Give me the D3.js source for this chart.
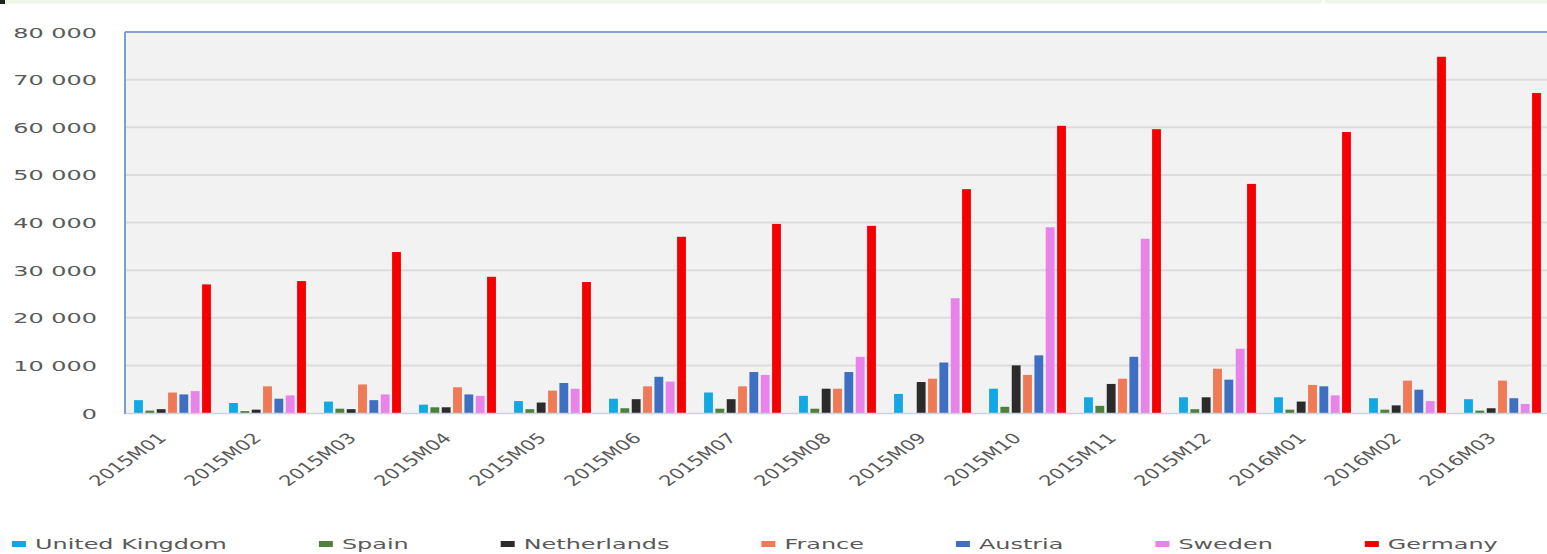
<!DOCTYPE html>
<html>
<head>
<meta charset="utf-8">
<script src="https://cdn.jsdelivr.net/npm/d3@7/dist/d3.min.js"></script>
<style>
  html, body { margin: 0; padding: 0; background: #ffffff; }
  svg { display: block; }
  text { font-family: "DejaVu Sans", sans-serif; fill: #595959; }
</style>
</head>
<body>
<svg id="chart" width="1547" height="554"></svg>
<script>
const months = ["2015M01","2015M02","2015M03","2015M04","2015M05","2015M06","2015M07","2015M08","2015M09","2015M10","2015M11","2015M12","2016M01","2016M02","2016M03"];
const seriesNames = ["United Kingdom","Spain","Netherlands","France","Austria","Sweden","Germany"];
const unitedKingdom = [2700,2100,2400,1750,2500,3000,4300,3600,4000,5100,3300,3300,3300,3100,2900];
const spain         = [500,400,900,1200,800,1000,900,900,0,1300,1500,800,700,700,500];
const netherlands   = [800,700,800,1200,2200,2900,2900,5100,6500,10000,6100,3300,2400,1600,1000];
const france        = [4300,5600,6000,5400,4700,5600,5600,5100,7200,8000,7200,9300,5900,6800,6800];
const austria       = [3900,3000,2700,3900,6300,7600,8600,8600,10600,12100,11800,7000,5600,4900,3100];
const sweden        = [4600,3700,3900,3600,5100,6600,8000,11800,24100,39000,36600,13500,3700,2500,1900];
const germany       = [27000,27700,33800,28600,27500,37000,39700,39300,47000,60300,59600,48100,59000,74800,67200];
const yTicks = [0,10000,20000,30000,40000,50000,60000,70000,80000];
const colors = ["#12a8e3","#4f7f3a","#2b2b2b","#ef7a55","#3f6fc0","#e883ea","#f50000"];

const seriesValues = [unitedKingdom, spain, netherlands, france, austria, sweden, germany];

(function () {
const svg = d3.select("#chart");
const SX = 1.65;   // horizontal text stretch (y labels, legend)
const SXL = 1.45;  // horizontal stretch for rotated month labels
const fmt = v => d3.format(",")(v).replace(/,/g, " ");

const pLeft = 125, pRight = 1550, pTop = 32, pBottom = 413;

// top strip artifact
svg.append("rect").attr("x", 0).attr("y", 0).attr("width", 1547).attr("height", 3.5).attr("fill", "#eef6e8");
svg.append("rect").attr("x", 1322).attr("y", 0).attr("width", 3).attr("height", 3.5).attr("fill", "#ffffff");
svg.append("rect").attr("x", 0).attr("y", 0).attr("width", 5).attr("height", 4).attr("fill", "#222");

const x0 = d3.scaleBand().domain(months).range([pLeft, pRight]).paddingInner(0).paddingOuter(0);
const x1 = d3.scaleBand().domain(seriesNames).range([0, x0.bandwidth()]).paddingInner(0.22).paddingOuter(0.8);
const y = d3.scaleLinear().domain([0, 80000]).range([pBottom, pTop]);

// plot area
svg.append("rect").attr("x", pLeft).attr("y", pTop).attr("width", pRight - pLeft).attr("height", pBottom - pTop).attr("fill", "#f2f2f2");

// gridlines
svg.append("g").selectAll("line").data(yTicks.filter(t => t > 0 && t < 80000)).join("line")
  .attr("x1", pLeft).attr("x2", pRight)
  .attr("y1", d => y(d)).attr("y2", d => y(d))
  .attr("stroke", "#dcdcdc").attr("stroke-width", 2);

// bars
const groups = svg.append("g").selectAll("g").data(months).join("g")
  .attr("transform", d => `translate(${x0(d)},0)`);
groups.selectAll("rect").data((m, i) => seriesNames.map((s, k) => ({ s, k, v: seriesValues[k][i] }))).join("rect")
  .attr("x", d => x1(d.s))
  .attr("width", x1.bandwidth())
  .attr("y", d => y(d.v))
  .attr("height", d => y(0) - y(d.v))
  .attr("fill", d => colors[d.k]);

// baseline and borders
svg.append("line").attr("x1", pLeft).attr("x2", pRight).attr("y1", pBottom + 0.5).attr("y2", pBottom + 0.5)
  .attr("stroke", "#c9d3e0").attr("stroke-width", 1.5);
svg.append("line").attr("x1", pLeft).attr("x2", pRight).attr("y1", pTop).attr("y2", pTop)
  .attr("stroke", "#86a4cc").attr("stroke-width", 2);
svg.append("line").attr("x1", pLeft).attr("x2", pLeft).attr("y1", pTop).attr("y2", pBottom + 1)
  .attr("stroke", "#7f9fca").attr("stroke-width", 2);

// y axis labels
const yAxis = d3.axisLeft(y).tickValues(yTicks).tickFormat(fmt).tickSize(0).tickPadding(0);
const yg = svg.append("g").attr("transform", "translate(97,0)").call(yAxis);
yg.select(".domain").remove();
yg.selectAll(".tick text")
  .attr("x", 0).attr("dy", "0.35em")
  .attr("transform", `scale(${SX},1)`)
  .style("font-size", "14.5px").attr("fill", "#5f5f5f").attr("text-anchor", "end")
  .style("font-family", "DejaVu Sans, sans-serif");

// x axis labels
const xAxis = d3.axisBottom(x0).tickSize(0).tickPadding(0);
const xg = svg.append("g").attr("transform", `translate(0,${pBottom})`).call(xAxis);
xg.select(".domain").remove();
xg.selectAll(".tick text")
  .attr("x", 0).attr("y", 0).attr("dy", 0)
  .attr("text-anchor", "end")
  .attr("transform", `translate(-5,26) scale(${SXL},1) rotate(-45)`)
  .style("font-size", "14.5px").attr("fill", "#5f5f5f")
  .style("font-family", "DejaVu Sans, sans-serif");

// legend
const legend = svg.append("g");
let lx = 12;
seriesNames.forEach((name, k) => {
  legend.append("rect").attr("x", lx).attr("y", 541).attr("width", 14).attr("height", 6).attr("fill", colors[k]);
  const t = legend.append("text")
    .attr("x", 0).attr("y", 0).attr("dy", "0.35em")
    .attr("transform", `translate(${lx + 23},544) scale(${SX},1)`)
    .style("font-size", "14.5px").attr("fill", "#5f5f5f")
    .text(name);
  const w = t.node().getComputedTextLength() * SX;
  lx = lx + 23 + w + 92;
});
})();
</script>
</body>
</html>
